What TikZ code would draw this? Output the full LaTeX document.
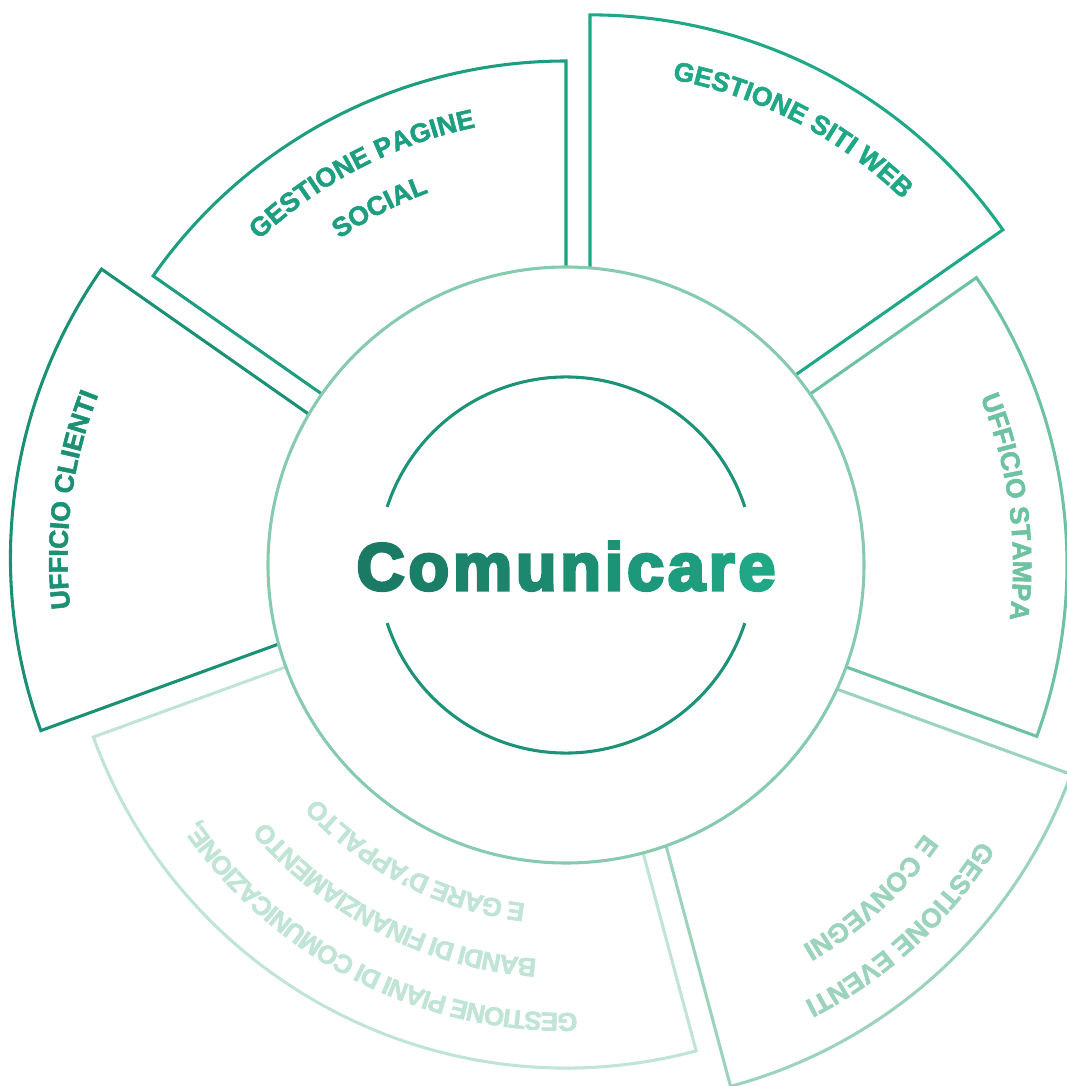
\documentclass[tikz,border=0pt]{standalone}
\usepackage{fontspec}
\usepackage{xcolor}
\usetikzlibrary{decorations.text}

\newfontfamily\sectorfont{Liberation Sans Bold}[FakeBold=2]
\newfontfamily\headfont{Liberation Sans Bold}[FakeBold=4.5]

\definecolor{webgreen}{HTML}{1FA886}
\definecolor{socialgreen}{HTML}{1E9E80}
\definecolor{clientigreen}{HTML}{1A9174}
\definecolor{pianigreen}{HTML}{C0E4D6}
\definecolor{eventigreen}{HTML}{9BD3BD}
\definecolor{stampagreen}{HTML}{6CC2A1}
\definecolor{ringgreen}{HTML}{86CAB0}
\definecolor{coregreen}{HTML}{1C9376}
\definecolor{titledark}{HTML}{1A7A63}
\definecolor{titlelight}{HTML}{1FA886}

\tikzstyle{sector}=[
    line width = 2.3pt,
    fill = white
]
\tikzstyle{ring}=[
    draw = ringgreen,
    line width = 2.3pt,
    fill = white
]
\tikzstyle{core}=[
    draw = coregreen,
    line width = 2.3pt
]

\newcommand{\labelfont}{\sectorfont\fontsize{20}{24}\selectfont}
\newcommand{\pianifont}{\sectorfont\fontsize{19.5}{24}\selectfont\kern-0.9pt}
\newcommand{\titlefont}{\headfont\fontsize{50}{60}\selectfont}

% slice: centre, from, to, radius, colour
\newcommand{\slice}[5]{%
    \draw [sector, draw=#5, shift={(#1)}] (0, 0) -- (#2:#4)
        arc [start angle=#2, end angle=#3, radius=#4] -- cycle;
}
% text bent round a slice: centre, mid angle, radius, font and colour, text
\newcommand{\arclabel}[5]{%
    \path [shift={(#1)}, decorate, decoration={text along path,
        text align=center, text={|#4|#5}}]
        (#2+50:#3) arc [start angle=#2+50, end angle=#2-50, radius=#3];
}

\begin{document}
\begin{tikzpicture}[x=0.75pt, y=0.75pt]
    \useasboundingbox (-566, -521) rectangle (501, 565);
    \clip (-566, -521) rectangle (501, 565);

    \coordinate (c) at (0, 0);
    \coordinate (cw) at (62.5:52);
    \coordinate (cc) at (172.5:52);
    \coordinate (ce) at (312.5:52);

    \slice{cw}{35}{90}{504}{webgreen}
    \slice{c}{90}{145}{504}{socialgreen}
    \slice{cc}{145}{200}{504}{clientigreen}
    \slice{c}{200}{285}{503}{pianigreen}
    \slice{ce}{285}{340}{500}{eventigreen}
    \slice{c}{-20}{35}{501}{stampagreen}

    \arclabel{cw}{62.5}{447}{\labelfont\color{webgreen}}{GESTIONE SITI WEB}
    \arclabel{c}{117.5}{447}{\labelfont\color{socialgreen}}{GESTIONE PAGINE}
    \arclabel{c}{117.5}{397}{\labelfont\color{socialgreen}}{SOCIAL}
    \arclabel{cc}{172.5}{447}{\labelfont\color{clientigreen}}{UFFICIO CLIENTI}
    \arclabel{c}{243}{448}{\pianifont\color{pianigreen}}{GESTIONE PIANI DI COMUNICAZIONE,}
    \arclabel{c}{243}{395}{\pianifont\color{pianigreen}}{BANDI DI FINANZIAMENTO}
    \arclabel{c}{243}{341}{\pianifont\color{pianigreen}}{E GARE D’APPALTO}
    \arclabel{ce}{312.5}{447}{\labelfont\color{eventigreen}}{GESTIONE EVENTI}
    \arclabel{ce}{312.5}{397}{\labelfont\color{eventigreen}}{E CONVEGNI}
    \arclabel{c}{7.5}{447}{\labelfont\color{stampagreen}}{UFFICIO STAMPA}

    \draw [ring] (c) circle (298);
    \draw [core] (18:188) arc [start angle=18, end angle=162, radius=188];
    \draw [core] (198:188) arc [start angle=198, end angle=342, radius=188];

    \node (title) [anchor=base] at (0, -25) {\titlefont%
        \foreach \ch [count=\i from 0] in {C,o,m,u,n,i,c,a,r,e}{%
            \pgfmathtruncatemacro{\pct}{100-11*\i}%
            \ifnum\i>0\kern2.8pt\fi
            \textcolor{titledark!\pct!titlelight}{\ch}%
        }%
    };
\end{tikzpicture}
\end{document}
